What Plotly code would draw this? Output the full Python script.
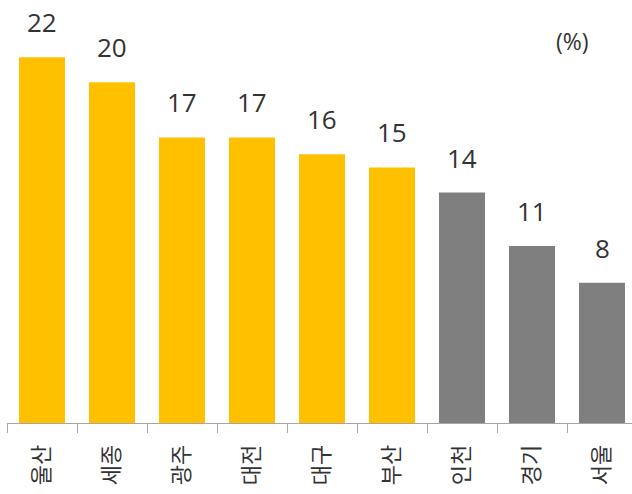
import plotly.graph_objects as go

regions = ["울산", "세종", "광주", "대전", "대구", "부산", "인천", "경기", "서울"]
values = [21.9, 20.4, 17.1, 17.1, 16.1, 15.3, 13.8, 10.6, 8.4]
bar_colors = ["#FFC000"] * 6 + ["#7F7F7F"] * 3
value_labels = [f"{v:.0f}" for v in values]
unit_label = "(%)"

FONT = "Noto Sans CJK KR"
NUMFONT = "Open Sans"
TXT = "#333333"

L, T, PW, PH = 7, 10, 625, 413

fig = go.Figure(
    go.Bar(
        x=regions,
        y=values,
        marker=dict(color=bar_colors, line=dict(width=0)),
        hoverinfo="skip",
    )
)

for r, v, lab in zip(regions, values, value_labels):
    fig.add_annotation(
        x=r, y=v, text=lab, showarrow=False,
        xanchor="center", yanchor="middle", yshift=35,
        font=dict(family=NUMFONT, size=26, color=TXT),
    )

fig.add_annotation(
    xref="paper", yref="paper", x=(572 - L) / PW, y=(T + PH - 41) / PH,
    text=unit_label, showarrow=False, xanchor="center", yanchor="middle",
    font=dict(family=NUMFONT, size=23, color=TXT),
)

fig.update_layout(
    width=632, height=494,
    margin=dict(l=L, r=632 - L - PW, t=T, b=494 - T - PH),
    paper_bgcolor="white", plot_bgcolor="white",
    bargap=0.343,
    showlegend=False,
    font=dict(family=FONT, color=TXT),
)
fig.update_xaxes(
    type="category",
    range=[-0.5, -0.5 + PW / 70],
    showline=True, linecolor="#A6A6A6", linewidth=1,
    ticks="outside", ticklen=9, tickcolor="#A6A6A6", tickwidth=1,
    tickson="boundaries",
    tickangle=-90,
    ticklabelstandoff=12,
    tickfont=dict(family=FONT, size=22, color=TXT),
    showgrid=False, zeroline=False, automargin=False,
)
fig.update_yaxes(
    range=[0, PH / 16.7],
    visible=False, showgrid=False, zeroline=False,
)

fig.write_html(
    "out.html",
    config={"displayModeBar": False},
    post_script="document.body.style.margin='0';",
)
